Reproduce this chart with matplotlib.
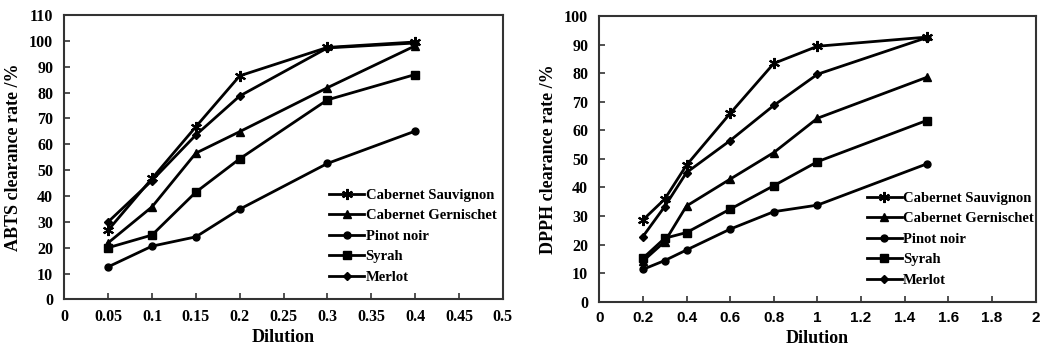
import matplotlib
matplotlib.use("Agg")
import matplotlib.pyplot as plt

series_names = ["Cabernet Sauvignon", "Cabernet Gernischet", "Pinot noir", "Syrah", "Merlot"]
markers = [(6, 2, 0), "^", "o", "s", "D"]
msizes = [8, 6, 5, 6, 4.5]

abts_x = [0.05, 0.1, 0.15, 0.2, 0.3, 0.4]
abts_cs = [26.8, 46.8, 66.8, 86.5, 97.5, 99.6]
abts_cg = [21.9, 35.8, 56.6, 64.9, 81.9, 98.1]
abts_pn = [12.6, 20.6, 24.2, 34.9, 52.6, 65.1]
abts_sy = [20.0, 24.9, 41.5, 54.4, 77.2, 87.0]
abts_me = [30.0, 46.0, 63.6, 78.7, 97.3, 99.2]

dpph_x = [0.2, 0.3, 0.4, 0.6, 0.8, 1.0, 1.5]
dpph_cs = [28.6, 35.9, 47.8, 65.9, 83.4, 89.4, 92.6]
dpph_cg = [14.2, 21.0, 33.5, 42.9, 52.2, 64.2, 78.5]
dpph_pn = [11.3, 14.4, 18.1, 25.4, 31.5, 33.8, 48.2]
dpph_sy = [15.2, 22.2, 24.2, 32.4, 40.6, 49.0, 63.4]
dpph_me = [22.8, 33.3, 45.2, 56.4, 68.7, 79.6, 92.4]

abts_xticks = [0, 0.05, 0.1, 0.15, 0.2, 0.25, 0.3, 0.35, 0.4, 0.45, 0.5]
abts_xticklabels = ["0", "0.05", "0.1", "0.15", "0.2", "0.25", "0.3", "0.35", "0.4", "0.45", "0.5"]
abts_yticks = list(range(0, 111, 10))
dpph_xticks = [0, 0.2, 0.4, 0.6, 0.8, 1.0, 1.2, 1.4, 1.6, 1.8, 2.0]
dpph_xticklabels = ["0", "0.2", "0.4", "0.6", "0.8", "1", "1.2", "1.4", "1.6", "1.8", "2"]
dpph_yticks = list(range(0, 101, 10))

serif = "Liberation Serif"
sans = "Liberation Sans"

fig = plt.figure(figsize=(10.44, 3.51), dpi=100)
ax1 = fig.add_axes([0.0616, 0.147, 0.42, 0.810])
ax2 = fig.add_axes([0.574, 0.1405, 0.418, 0.814])

def draw(ax, x, ys, xticks, xlabels, yticks, ylim, xlim, ylabel, xfont, xfs, leg_anchor):
    for y, name, m, ms in zip(ys, series_names, markers, msizes):
        ax.plot(x, y, color="black", lw=2, marker=m, ms=ms, mew=1.5 if m == markers[0] else 1,
                mfc="black", mec="black", label=name)
    ax.set_xlim(*xlim)
    ax.set_ylim(*ylim)
    ax.set_xticks(xticks)
    ax.set_xticklabels(xlabels, fontfamily=xfont, fontweight="bold", fontsize=xfs)
    ax.set_yticks(yticks)
    ax.set_yticklabels([str(v) for v in yticks], fontfamily=serif, fontweight="bold", fontsize=11.5)
    ax.tick_params(axis="y", direction="in", length=4, width=1.2, color="#333333", pad=8)
    ax.tick_params(axis="x", direction="in", length=4, width=1.2, color="#333333", pad=7)
    for s in ax.spines.values():
        s.set_linewidth(1.5)
        s.set_color("#333333")
    ax.set_xlabel("Dilution", fontfamily=serif, fontweight="bold", fontsize=13, labelpad=3)
    ax.set_ylabel(ylabel, fontfamily=serif, fontweight="bold", fontsize=13, labelpad=5)
    ax.legend(loc="upper left", bbox_to_anchor=leg_anchor, frameon=False,
              prop={"family": serif, "weight": "bold", "size": 10.5},
              handlelength=2.4, handletextpad=0.1, labelspacing=0.5,
              borderaxespad=0, borderpad=0)

draw(ax1, abts_x, [abts_cs, abts_cg, abts_pn, abts_sy, abts_me],
     abts_xticks, abts_xticklabels, abts_yticks, (0, 110), (0, 0.5),
     "ABTS clearance rate /%", serif, 11.5, (0.604, 0.39))
draw(ax2, dpph_x, [dpph_cs, dpph_cg, dpph_pn, dpph_sy, dpph_me],
     dpph_xticks, dpph_xticklabels, dpph_yticks, (0, 100), (0, 2),
     "DPPH clearance rate /%", sans, 11, (0.613, 0.386))

fig.savefig("out.png", dpi=100)
